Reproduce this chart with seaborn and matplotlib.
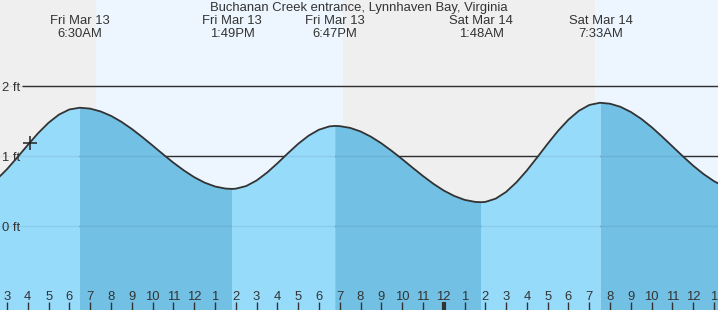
import numpy as np
import pandas as pd
import matplotlib
matplotlib.use("Agg")
import matplotlib.pyplot as plt
import seaborn as sns

# ---------------- data (hours since Fri Mar 13 00:00, feet) ----------------
times = [2.5, 3.0, 3.5, 4.0, 4.5, 5.0, 5.5, 6.0, 6.5,
         7.0, 7.5, 8.0, 8.5, 9.0, 9.5, 10.0, 10.5, 11.0, 11.5, 12.0, 12.5, 13.0, 13.5, 13.82,
         14.0, 14.5, 15.0, 15.5, 16.0, 16.5, 17.0, 17.5, 18.0, 18.5, 18.78,
         19.0, 19.5, 20.0, 20.5, 21.0, 21.5, 22.0, 22.5, 23.0, 23.5, 24.0, 24.5, 25.0, 25.5, 25.8,
         26.0, 26.5, 27.0, 27.5, 28.0, 28.5, 29.0, 29.5, 30.0, 30.5, 31.0, 31.5, 31.55,
         32.0, 32.5, 33.0, 33.5, 34.0, 34.5, 35.0, 35.5, 36.0, 36.5, 37.0, 37.5]
heights = [0.664, 0.812, 0.982, 1.158, 1.328, 1.476, 1.592, 1.665, 1.69,
           1.677, 1.637, 1.574, 1.489, 1.387, 1.272, 1.150, 1.026, 0.905, 0.795, 0.698, 0.620, 0.565, 0.535, 0.53,
           0.533, 0.571, 0.650, 0.762, 0.895, 1.037, 1.174, 1.290, 1.376, 1.423, 1.43,
           1.427, 1.402, 1.351, 1.276, 1.182, 1.073, 0.956, 0.834, 0.715, 0.604, 0.507, 0.430, 0.374, 0.345, 0.34,
           0.344, 0.391, 0.487, 0.625, 0.794, 0.982, 1.176, 1.360, 1.520, 1.646, 1.729, 1.760, 1.76,
           1.747, 1.703, 1.629, 1.531, 1.412, 1.278, 1.137, 0.996, 0.861, 0.741, 0.640, 0.563]

high_times = [6.5, 18.78, 31.55]
low_times = [13.82, 25.8, 38.5]

extreme_times = [6.5, 13.82, 18.78, 25.8, 31.55]
extreme_days = ["Fri Mar 13", "Fri Mar 13", "Fri Mar 13", "Sat Mar 14", "Sat Mar 14"]
extreme_labels = ["6:30AM", "1:49PM", "6:47PM", "1:48AM", "7:33AM"]

night_spans = [(2.0, 7.28), (19.16, 31.28)]
day_spans = [(7.28, 19.16), (31.28, 38.0)]

hour_ticks = list(range(3, 38))
hour_labels = [str((h - 1) % 12 + 1) for h in hour_ticks]
midnight = 24

level_values = [0, 1, 2]
level_labels = ["0 ft", "1 ft", "2 ft"]

now_time, now_height = 4.1, 1.19
title = "Buchanan Creek entrance, Lynnhaven Bay, Virginia"

# ---------------- style ----------------
sns.set_theme(style="white")
plt.rcParams["font.family"] = ["Liberation Sans", "DejaVu Sans"]
TXT = "#333333"
FS = 9.4

fig = plt.figure(figsize=(7.18, 3.10), dpi=100)
ax = fig.add_axes([0, 0, 1, 1])
X0, X1 = 2.663, 37.19
Y0, Y1 = -1.2, 3.229
ax.set_xlim(X0, X1)
ax.set_ylim(Y0, Y1)

for a, b in night_spans:
    ax.axvspan(a, b, color="#efefef", lw=0, zorder=0)
for a, b in day_spans:
    ax.axvspan(a, b, color="#edf6ff", lw=0, zorder=0)

# grid lines (start right of the labels)
gx0 = X0 + 22 / 718 * (X1 - X0)
for v in level_values:
    ax.hlines(v, gx0, X1, color="#333333", lw=1.0, zorder=1)

df = pd.DataFrame({"t": times, "h": heights})
t = np.array(times)
h = np.array(heights)
falling = np.zeros(len(t), dtype=bool)
for hi, lo in zip(high_times, low_times):
    falling |= (t >= hi) & (t <= lo)
rising = ~falling
for hi in high_times:
    rising |= np.isclose(t, hi)
for lo in low_times:
    rising |= np.isclose(t, lo)

ax.fill_between(t, Y0, h, where=rising, color="#97dbfb", lw=0, zorder=2)
ax.fill_between(t, Y0, h, where=falling, color="#72c1e5", lw=0, zorder=2)

for v in level_values:
    ax.hlines(v, X0, X1, color="#000000", alpha=0.07, lw=1.0, zorder=3)

sns.lineplot(data=df, x="t", y="h", ax=ax, color="#333333", lw=1.3, zorder=4, sort=False)
ax.plot([now_time], [now_height], marker="+", ms=10, mew=1.1, color="#222222", zorder=5)

# level labels
for v, lab in zip(level_values, level_labels):
    ax.text(X0 + 2 / 718 * (X1 - X0), v, lab, ha="left", va="center_baseline",
            fontsize=FS, color=TXT, zorder=6)

# extreme labels
for et, d, lab in zip(extreme_times, extreme_days, extreme_labels):
    ax.text(et, 1 - 19.5 / 310, d, ha="center", va="center_baseline", fontsize=FS, color=TXT,
            transform=ax.get_xaxis_transform(), zorder=6)
    ax.text(et, 1 - 32.5 / 310, lab, ha="center", va="center_baseline", fontsize=FS, color=TXT,
            transform=ax.get_xaxis_transform(), zorder=6)
ax.text(0.5, 1 - 7 / 310, title, ha="center", va="center_baseline", fontsize=FS, color=TXT,
        transform=ax.transAxes, zorder=6)

# hour ticks
ax.set_xticks(hour_ticks)
ax.set_xticklabels(hour_labels)
ax.set_yticks([])
ax.tick_params(axis="x", direction="in", length=6, width=1, color="#333333",
               labelsize=FS, labelcolor=TXT, pad=-5.2, bottom=True)
for tk, hv in zip(ax.xaxis.get_major_ticks(), hour_ticks):
    tk.label1.set_verticalalignment("bottom")
    if hv == midnight:
        tk.tick1line.set_markeredgewidth(3)
        tk.tick1line.set_color("#111111")
ax.xaxis.set_zorder(7)
ax.set_xlabel("")
ax.set_ylabel("")
for s in ax.spines.values():
    s.set_visible(False)

fig.savefig("out.png", dpi=100)
